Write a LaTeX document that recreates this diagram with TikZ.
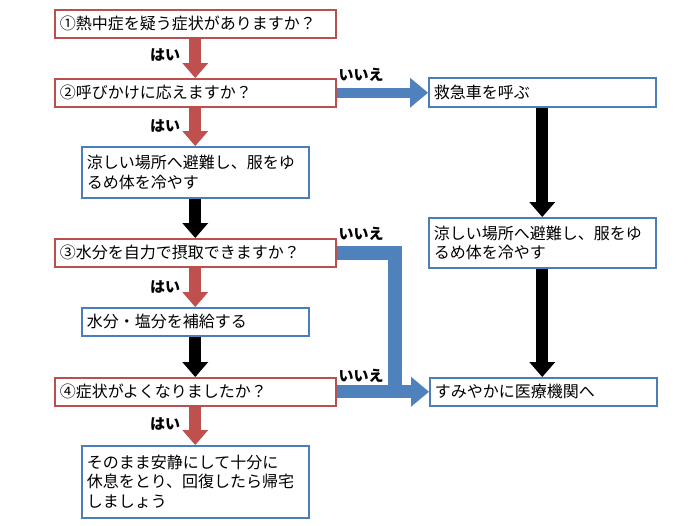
\documentclass[tikz,border=0pt]{standalone}
\usepackage{fontspec}
\newfontfamily\jp{Noto Sans CJK JP}
\usetikzlibrary{calc}
\definecolor{rline}{HTML}{B9504D}
\definecolor{rfill}{HTML}{C0504D}
\definecolor{bline}{HTML}{4A7EBB}
\definecolor{bfill}{HTML}{4F81BD}
\tikzset{
  box/.style={draw, line width=1.5pt, fill=white, anchor=north west,
    inner xsep=5pt, inner ysep=0pt, align=left,
    font=\jp\fontsize{16}{19.5}\selectfont},
  rbox/.style={box, draw=rline},
  bbox/.style={box, draw=bline},
  lbl/.style={font=\jp\bfseries\fontsize{15}{15}\selectfont, inner sep=0pt},
  wide/.style={minimum width=281pt, text width=271pt},
  narrow/.style={minimum width=227pt, text width=217pt},
}
\newcommand\varrowto[3]{%
  \draw[draw=#1, line width=12pt] (#2.south) -- ($(#2.south |- #3.north)+(0,-14)$);
  \fill[#1] (#2.south |- #3.north) -- ++(-13,-15) -- ++(26,0) -- cycle;}
\newcommand\harrowto[4]{%
  \draw[draw=#1, line width=#4] (#2.east) -- ($(#2.east -| #3.west)+(-16,0)$);
  \fill[#1] (#2.east -| #3.west) -- ++(-18,-15) -- ++(0,30) -- cycle;}
\begin{document}
\begin{tikzpicture}[x=1pt,y=-1pt]
\useasboundingbox (0,0) rectangle (700,525);
% left column
\node[rbox, wide, minimum height=28pt] (b1) at (54,9) {①熱中症を疑う症状がありますか？};
\node[rbox, wide, minimum height=28pt] (b2) at (54,78) {②呼びかけに応えますか？};
\node[bbox, narrow, minimum height=51pt] (c1) at (81,146) {涼しい場所へ避難し、服をゆ\\るめ体を冷やす};
\node[rbox, wide, minimum height=28pt] (b3) at (54,238) {③水分を自力で摂取できますか？};
\node[bbox, narrow, minimum height=28pt] (c2) at (81,307) {水分・塩分を補給する};
\node[rbox, wide, minimum height=28pt] (b4) at (54,377) {④症状がよくなりましたか？};
\node[bbox, narrow, minimum height=72pt] (c3) at (81,445) {そのまま安静にして十分に\\休息をとり、回復したら帰宅\\しましょう};
% right column
\node[bbox, narrow, minimum height=29pt] (r1) at (428,77) {救急車を呼ぶ};
\node[bbox, narrow, minimum height=50pt] (r2) at (428,217) {涼しい場所へ避難し、服をゆ\\るめ体を冷やす};
\node[bbox, narrow, minimum height=28pt] (r3) at (429,377) {すみやかに医療機関へ};
% vertical arrows
\varrowto{rfill}{b1}{b2}
\varrowto{rfill}{b2}{c1}
\varrowto{black}{c1}{b3}
\varrowto{rfill}{b3}{c2}
\varrowto{black}{c2}{b4}
\varrowto{rfill}{b4}{c3}
\varrowto{black}{r1}{r2}
\varrowto{black}{r2}{r3}
% horizontal arrows
\harrowto{bfill}{b2}{r1}{10.5pt}
\coordinate (turn) at (395,0);
\draw[draw=bfill, line width=14pt, line join=miter] (b3.east) -| (turn |- b4.east);
\harrowto{bfill}{b4}{r3}{13pt}
% labels
\node[lbl] (y1) at (165,55) {はい};
\node[lbl] (y2) at (165,126) {はい};
\node[lbl] (y3) at (165,287) {はい};
\node[lbl] (y4) at (165,424) {はい};
\node[lbl] (n1) at (361,75) {いいえ};
\node[lbl] (n2) at (361,234) {いいえ};
\node[lbl] (n3) at (361,376) {いいえ};
\end{tikzpicture}
\end{document}
